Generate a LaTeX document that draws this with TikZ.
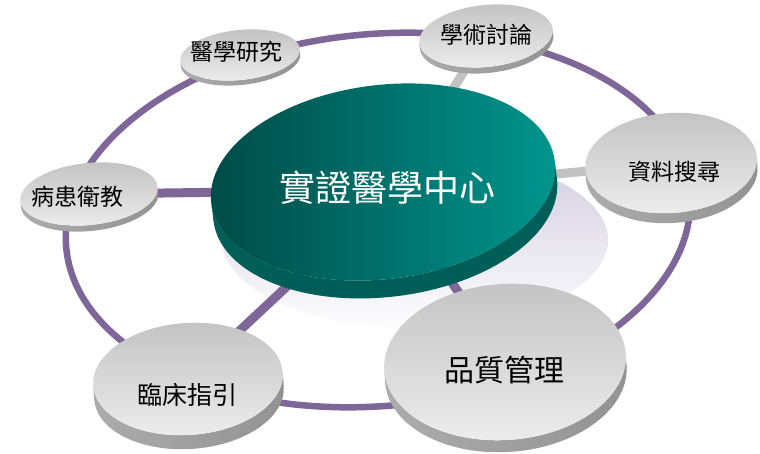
\documentclass[tikz,border=0pt]{standalone}
\usepackage{fontspec}
\newfontfamily\cjk{Noto Sans CJK TC}
\definecolor{ringc}{HTML}{7F6699}
\definecolor{spokeg}{HTML}{C2C2C2}
\definecolor{tealdark}{HTML}{004A46}
\definecolor{teallight}{HTML}{00968F}
\definecolor{tealside}{HTML}{005E59}
\definecolor{shadowc}{HTML}{D2CDE0}
\definecolor{disctop}{HTML}{C4C4C4}
\definecolor{discbot}{HTML}{EDEDED}
\newcommand\mydisc[6]{%
  \begin{scope}[shift={(#1,#2)},rotate=#6]
    \shade[left color=gray!65,middle color=gray!25,right color=gray!85]
      (-#3,0) -- (-#3,#5) arc[start angle=180,end angle=0,x radius=#3,y radius=#4]
      -- (#3,0) arc[start angle=0,end angle=180,x radius=#3,y radius=#4] -- cycle;
    \shade[top color=disctop,bottom color=discbot] (0,0) ellipse[x radius=#3,y radius=#4];
  \end{scope}}
\begin{document}
\begin{tikzpicture}[x=1pt,y=-1pt,
  ring/.style={draw=ringc,line width=6.5pt},
  pspoke/.style={draw=ringc,line width=9pt},
  gspoke/.style={draw=spokeg,line width=9pt},
  lbl/.style={font=\cjk\fontsize{23}{23}\selectfont,text=black,inner sep=0pt}]
\useasboundingbox (0,0) rectangle (760,454);
\fill[white] (0,0) rectangle (760,454);
% centres
\coordinate (hub) at (390,190);
\coordinate (c1) at (240,55);
\coordinate (c2) at (486,36);
\coordinate (c3) at (671,163);
\coordinate (c4) at (89,194);
\coordinate (c5) at (188,379);
\coordinate (c6) at (505,362);
% shadow
\shade[top color=shadowc,bottom color=white!96!shadowc] (415,240) ellipse[x radius=193,y radius=88];
% ring
\draw[ring,rotate around={5:(378,220)}] (378,220) ellipse[x radius=313,y radius=186];
% spokes
\draw[gspoke] (hub) -- (c2);
\draw[gspoke] (hub) -- (c3);
\draw[pspoke] (hub) -- (c4);
\draw[pspoke] (hub) -- (c5);
\draw[pspoke] (hub) -- (c6);
% central disc
\begin{scope}[shift={(383,182)},rotate=7]
  \fill[tealside] (-173,0) -- (-173,18) arc[start angle=180,end angle=0,x radius=173,y radius=97]
      -- (173,0) arc[start angle=0,end angle=180,x radius=173,y radius=97] -- cycle;
  \shade[shading=axis,shading angle=-60,left color=tealdark,right color=teallight]
      (0,0) ellipse[x radius=173,y radius=97];
\end{scope}
% node discs
\mydisc{240}{55}{60}{25}{5}{6}
\mydisc{486}{36}{67}{31}{6}{6}
\mydisc{671}{163}{86}{50}{10}{4}
\mydisc{89}{194}{69}{31}{6}{6}
\mydisc{188}{379}{95}{56}{14}{4}
\mydisc{505}{362}{121}{78}{12}{4}
% labels
\node[font=\cjk\fontsize{36}{36}\selectfont,text=white,inner sep=0pt] (center) at (387,188) {實證醫學中心};
\node[lbl] (n1) at (236,52) {醫學研究};
\node[lbl] (n2) at (486,35) {學術討論};
\node[lbl] (n3) at (674,172) {資料搜尋};
\node[lbl] (n4) at (77,197) {病患衛教};
\node[lbl,font=\cjk\fontsize{25}{25}\selectfont] (n5) at (187,395) {臨床指引};
\node[lbl,font=\cjk\fontsize{30}{30}\selectfont] (n6) at (504,370) {品質管理};
\end{tikzpicture}
\end{document}
